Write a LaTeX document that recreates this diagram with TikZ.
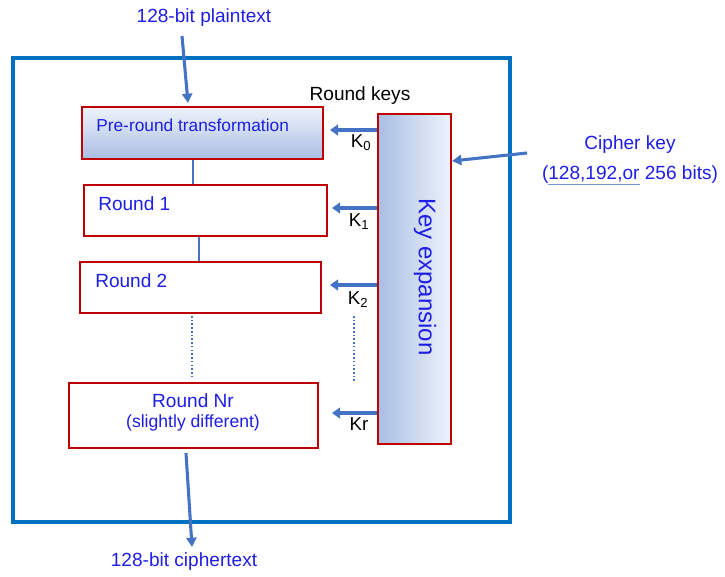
\documentclass[tikz,border=0pt]{standalone}
\usepackage{fontspec}
\setmainfont{Liberation Sans}
\usetikzlibrary{arrows.meta}
\definecolor{txtblue}{RGB}{30,30,230}
\definecolor{arrowblue}{RGB}{68,114,196}
\definecolor{frameblue}{RGB}{0,112,192}
\definecolor{boxred}{RGB}{192,0,0}
\definecolor{shadedark}{RGB}{169,190,228}
\definecolor{shadelight}{RGB}{238,243,251}
\definecolor{ulblue}{RGB}{120,150,215}
\begin{document}
\begin{tikzpicture}[x=0.75pt,y=-0.75pt,
  redbox/.style={draw=boxred,line width=2pt,inner sep=0pt},
  txt/.style={text=txtblue,inner sep=0pt,font=\fontsize{14.3}{16}\selectfont},
  blk/.style={text=black,inner sep=0pt,font=\fontsize{14}{16}\selectfont},
  conn/.style={draw=arrowblue,line width=1.6pt},
  dotline/.style={draw=arrowblue,line width=1.6pt,dash pattern=on 1.2pt off 1.6pt},
  keyarrow/.style={draw=arrowblue,line width=3pt,-{Triangle[length=6pt,width=8pt]}},
  ioarrow/.style={draw=arrowblue,line width=2.3pt,-{Triangle[length=7pt,width=7.5pt]}}
]
\useasboundingbox (0,0) rectangle (725,577);

% outer frame
\node[draw=frameblue,line width=2.3pt,minimum width=372.75pt,minimum height=348pt,inner sep=0pt] (frame) at (261.5,290) {};

% boxes
\node[redbox,top color=shadelight,bottom color=shadedark,minimum width=180.75pt,minimum height=39pt] (pre) at (202.5,133) {};
\node[redbox,fill=white,minimum width=182.25pt,minimum height=38.25pt] (r1) at (205.5,210.5) {};
\node[redbox,fill=white,minimum width=180.75pt,minimum height=38.25pt] (r2) at (200.5,287.5) {};
\node[redbox,fill=white,minimum width=186.75pt,minimum height=48.75pt] (rn) at (193.5,415.5) {};
\node[redbox,left color=shadedark,right color=shadelight,minimum width=54.75pt,minimum height=247.5pt] (key) at (414.5,279) {};

% box texts
\node[txt,anchor=west,font=\fontsize{13}{15}\selectfont] (pretxt) at (96,125) {Pre-round transformation};
\node[txt,anchor=west] (r1txt) at (98,204) {Round 1};
\node[txt,anchor=west] (r2txt) at (95,281) {Round 2};
\node[txt] (rntxt) at (193,401) {Round Nr};
\node[txt,font=\fontsize{13.2}{15}\selectfont] (rnsub) at (193,423) {(slightly different)};
\node[txt,rotate=-90,font=\fontsize{18}{20}\selectfont] (keytxt) at (425,277) {Key expansion};

% connectors between rounds
\coordinate (c1) at (193,0);
\coordinate (c2) at (199,0);
\coordinate (c3) at (192,0);
\draw[conn] (pre.south -| c1) -- (r1.north -| c1);
\draw[conn] (r1.south -| c2) -- (r2.north -| c2);
\coordinate (d1) at (192,316);
\coordinate (d2) at (192,379);
\draw[dotline] (d1) -- (d2);

% key arrows
\coordinate (k0) at (330,130);
\coordinate (k1) at (332,208);
\coordinate (k2) at (330,285);
\coordinate (kr) at (332,413);
\draw[keyarrow] (key.west |- k0) -- (k0);
\draw[keyarrow] (key.west |- k1) -- (k1);
\draw[keyarrow] (key.west |- k2) -- (k2);
\draw[keyarrow] (key.west |- kr) -- (kr);
\node[blk] (k0l) at (361,143) {K\textsubscript{0}};
\node[blk] (k1l) at (359,222) {K\textsubscript{1}};
\node[blk] (k2l) at (358,300) {K\textsubscript{2}};
\node[blk] (krl) at (359,424) {Kr};
\coordinate (e1) at (354,316);
\coordinate (e2) at (354,381);
\draw[dotline] (e1) -- (e2);
\node[blk,font=\fontsize{14.3}{16}\selectfont] (rk) at (360,96) {Round keys};

% input / output
\node[txt] (plain) at (204,18) {128-bit plaintext};
\coordinate (pin) at (182,36);
\coordinate (ptip) at (188,103);
\draw[ioarrow] (pin) -- (ptip);
\node[txt] (cipher) at (184,562) {128-bit ciphertext};
\coordinate (cout) at (186,453);
\coordinate (ctip) at (192,547);
\draw[ioarrow] (cout) -- (ctip);

% cipher key
\node[txt,align=center,font=\fontsize{14.3}{23}\selectfont] (ck) at (630,160) {Cipher key\\(\textcolor{ulblue}{\underline{\textcolor{txtblue}{128,192,or}}} 256 bits)};
\coordinate (ckin) at (527,153);
\coordinate (cktip) at (452,161);
\draw[ioarrow] (ckin) -- (cktip);
\end{tikzpicture}
\end{document}
